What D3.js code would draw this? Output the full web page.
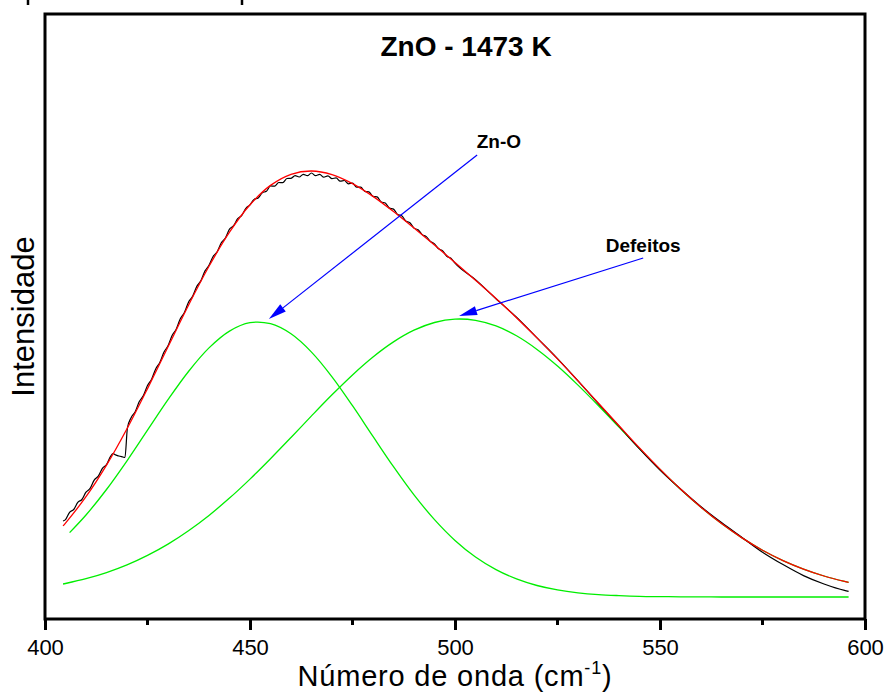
<!DOCTYPE html>
<html>
<head>
<meta charset="utf-8">
<script src="https://cdn.jsdelivr.net/npm/d3@7"></script>
<style>
  html, body { margin: 0; padding: 0; background: #fff; }
  svg { display: block; }
  text { font-family: "Liberation Sans", Arial, Helvetica, sans-serif; fill: #000; }
</style>
</head>
<body>
<svg id="chart" width="890" height="693"></svg>
<script>
// Raman spectrum of ZnO sintered at 1473 K, with a two-band deconvolution.
// Wavenumbers in cm^-1, intensities in arbitrary units (0 = fitted baseline).

const title = "ZnO - 1473 K";
const xTicks = [400, 450, 500, 550, 600];
const xMinorTicks = [425, 475, 525, 575];

// Measured spectrum [wavenumber, intensity]
const measured = [
  [404.4, 76], [405, 77.4], [406, 84.7], [407, 87.5], [408, 94.7], [409, 97.5],
  [410, 104.8], [411, 108.6], [412, 116.9], [413, 120.8], [414, 128.6], [415, 132.4],
  [416, 140.7], [416.6, 143.5], [417, 142.5], [418, 141], [419, 140], [419.5, 139.5],
  [420.1, 169], [421, 179.3], [422, 185.3], [423, 195.4], [424, 201.4], [425, 211.4],
  [426, 217.8], [427, 228.1], [428, 234.5], [429, 244.8], [430, 251.2], [431, 261.5],
  [432, 267.8], [433, 278.2], [434, 284.5], [435, 294.8], [436, 300.6], [437, 310.4],
  [438, 316.1], [439, 325.9], [440, 331.7], [441, 340.5], [442, 345.3], [443, 354.2],
  [444, 359.0], [445, 367.8], [446, 371.3], [447, 378.3], [448, 381.7], [449, 388.7],
  [450, 392.2], [451, 397.6], [452, 399.0], [453, 404.3], [454, 405.7], [455, 411.1],
  [456, 410.8], [457, 414.5], [458, 414.3], [459, 418.5], [460, 418.7], [461, 421.4],
  [462, 420.0], [463, 422.7], [464, 421.3], [465, 424.0], [466, 421.3], [467, 422.6],
  [468, 419.8], [469, 421.1], [470, 418.4], [471, 419.1], [472, 415.8], [473, 416.5],
  [474, 413.2], [475, 413.9], [476, 409.8], [477, 409.8], [478, 405.7], [479, 405.2],
  [480, 400.6], [481, 400.1], [482, 395.0], [483, 394.0], [484, 388.9], [485, 387.9],
  [486, 382.6], [487, 381.3], [488, 376.0], [489, 374.2], [490, 368.9], [491, 367.2],
  [492, 362.4], [493, 360.4], [494, 355.6], [495, 353.1], [496, 348.2], [497, 346.1],
  [498, 340.8], [499, 338.7], [500, 333.8], [505, 317.2], [510, 298.2], [515, 279.8],
  [520, 259.1], [525, 238.4], [530, 216.1], [535, 193.2], [540, 170.8], [545, 148.1],
  [550, 126.9], [555, 108.0], [560, 90.3], [565, 74.4], [570, 59.6], [575, 44.8],
  [580, 32.4], [585, 21.4], [590, 13.0], [595, 6.6], [596, 5.7]
];

// Fitted envelope (sum of both bands)
const fitWavenumber = [404.4, 405, 410, 415, 420, 425, 430, 435, 440, 445, 450, 455, 460, 465,
  470, 475, 480, 485, 490, 495, 500, 505, 510, 515, 520, 525, 530, 535, 540, 545, 550,
  555, 560, 565, 570, 575, 580, 585, 590, 595, 596];
const fitTotal = [71.1, 73.9, 100.3, 131.9, 168.3, 208.4, 250.2, 291.8, 330.7, 364.8, 392.2,
  411.6, 422.7, 426.0, 422.4, 413.4, 400.6, 385.4, 368.9, 351.9, 334.5, 316.7, 298.5,
  279.3, 259.1, 238.1, 216.1, 193.7, 171.3, 149.1, 127.9, 108.0, 89.8, 73.4, 59.1, 46.8,
  36.4, 27.9, 21.0, 15.6, 14.7];

// Band 1: Zn-O mode
const bandZnOWavenumber = [406, 410, 415, 420, 425, 430, 435, 440, 445, 450, 455, 460, 465,
  470, 475, 480, 485, 490, 495, 500, 505, 510, 515, 520, 525, 530, 535, 540, 545, 550,
  555, 560, 565, 570, 575, 580, 585, 590, 595, 596];
const bandZnO = [64.4, 82.0, 107.5, 136.2, 166.8, 197.3, 225.5, 249.1, 265.9, 274.3, 273.3,
  263.2, 244.9, 220.2, 191.3, 160.6, 130.3, 102.1, 77.4, 56.6, 40.0, 27.4, 18.1, 11.5,
  7.1, 4.2, 2.4, 1.4, 0.7, 0.4, 0.2, 0.1, 0, 0, 0, 0, 0, 0, 0, 0];

// Band 2: defect-related mode
const bandDefectsWavenumber = fitWavenumber;
const bandDefects = [13.0, 13.5, 18.3, 24.4, 32.1, 41.6, 52.9, 66.3, 81.6, 98.9, 117.9, 138.3,
  159.5, 181.1, 202.2, 222.1, 240.0, 255.1, 266.8, 274.5, 277.9, 276.7, 271.1, 261.2,
  247.6, 231.0, 211.9, 191.3, 169.9, 148.4, 127.5, 107.8, 89.7, 73.4, 59.1, 46.8, 36.4,
  27.9, 21.0, 15.6, 14.7];

// Annotations: label anchor and arrow tail/tip in data units
const annotations = [
  { label: "Zn-O", at: [510.7, 449], from: [505.4, 442], to: [454.6, 278] },
  { label: "Defeitos", at: [545.9, 345], from: [545.9, 339], to: [501.0, 281] }
];

const svg = d3.select("#chart");
const W = 890, H = 693;
const margin = { left: 45, right: 25, top: 14, bottom: 74 };

const x = d3.scaleLinear().domain([400, 600]).range([margin.left, W - margin.right]);
const y = d3.scaleLinear().domain([-22, 583]).range([H - margin.bottom, margin.top]);

// Remains of the axis from the panel above
svg.append("g")
  .selectAll("line")
  .data([28, 242])
  .join("line")
  .attr("x1", d => d).attr("x2", d => d)
  .attr("y1", 0).attr("y2", 5)
  .attr("stroke", "#000").attr("stroke-width", 2.5);

const zip = (xs, ys) => xs.map((v, i) => [v, ys[i]]);
const line = d3.line()
  .x(d => x(d[0]))
  .y(d => y(d[1]))
  .curve(d3.curveCatmullRom.alpha(0.5));

const plot = svg.append("g");

plot.append("path")
  .datum(zip(bandZnOWavenumber, bandZnO))
  .attr("d", line)
  .attr("fill", "none").attr("stroke", "#00ee00").attr("stroke-width", 1.3);

plot.append("path")
  .datum(zip(bandDefectsWavenumber, bandDefects))
  .attr("d", line)
  .attr("fill", "none").attr("stroke", "#00ee00").attr("stroke-width", 1.3);

plot.append("path")
  .datum(measured)
  .attr("d", d3.line().x(d => x(d[0])).y(d => y(d[1])).curve(d3.curveMonotoneX))
  .attr("fill", "none").attr("stroke", "#000").attr("stroke-width", 1.2);

plot.append("path")
  .datum(zip(fitWavenumber, fitTotal))
  .attr("d", line)
  .attr("fill", "none").attr("stroke", "#ff0000").attr("stroke-width", 1.3);

// Annotation arrows
annotations.forEach(a => {
  const x0 = x(a.from[0]), y0 = y(a.from[1]);
  const x1 = x(a.to[0]), y1 = y(a.to[1]);
  const ang = Math.atan2(y1 - y0, x1 - x0);
  const headLen = 18, headHalf = 4.5;
  const bx = x1 - headLen * Math.cos(ang), by = y1 - headLen * Math.sin(ang);
  svg.append("line")
    .attr("x1", x0).attr("y1", y0).attr("x2", bx).attr("y2", by)
    .attr("stroke", "#0000ff").attr("stroke-width", 1.2);
  const px = -Math.sin(ang), py = Math.cos(ang);
  svg.append("polygon")
    .attr("points", [
      [x1, y1],
      [bx + headHalf * px, by + headHalf * py],
      [bx - headHalf * px, by - headHalf * py]
    ].map(p => p.join(",")).join(" "))
    .attr("fill", "#0000ff");
  svg.append("text")
    .attr("x", x(a.at[0])).attr("y", y(a.at[1]))
    .attr("text-anchor", "middle")
    .attr("font-size", 19).attr("font-weight", "bold")
    .text(a.label);
});

// Frame
svg.append("rect")
  .attr("x", x(400)).attr("y", margin.top)
  .attr("width", x(600) - x(400)).attr("height", (H - margin.bottom) - margin.top)
  .attr("fill", "none").attr("stroke", "#000").attr("stroke-width", 3);

// Bottom axis
const axis = svg.append("g")
  .attr("transform", `translate(0,${H - margin.bottom})`)
  .call(d3.axisBottom(x).tickValues(xTicks).tickSize(11).tickPadding(9).tickFormat(d3.format("d")));
axis.select(".domain").remove();
axis.selectAll(".tick line").attr("stroke", "#000").attr("stroke-width", 3);
axis.selectAll(".tick text")
  .attr("font-family", "'Liberation Sans', Arial, sans-serif")
  .attr("font-size", 22);

svg.append("g")
  .attr("transform", `translate(0,${H - margin.bottom})`)
  .selectAll("line")
  .data(xMinorTicks)
  .join("line")
  .attr("x1", d => x(d)).attr("x2", d => x(d))
  .attr("y1", 0).attr("y2", 6)
  .attr("stroke", "#000").attr("stroke-width", 3);

// Axis titles
const xt = svg.append("text")
  .attr("x", x(500)).attr("y", 686)
  .attr("text-anchor", "middle")
  .attr("font-size", 29)
  .attr("letter-spacing", 0.8);
xt.append("tspan").text("Número de onda (cm");
xt.append("tspan").attr("font-size", 18).attr("dy", -12).text("-1");
xt.append("tspan").attr("dy", 12).text(")");

svg.append("text")
  .attr("transform", `translate(34,${(margin.top + H - margin.bottom) / 2}) rotate(-90)`)
  .attr("text-anchor", "middle")
  .attr("font-size", 31)
  .text("Intensidade");

// Title
svg.append("text")
  .attr("x", x(502.7)).attr("y", y(541))
  .attr("text-anchor", "middle")
  .attr("font-size", 28).attr("font-weight", "bold")
  .text(title);
</script>
</body>
</html>
